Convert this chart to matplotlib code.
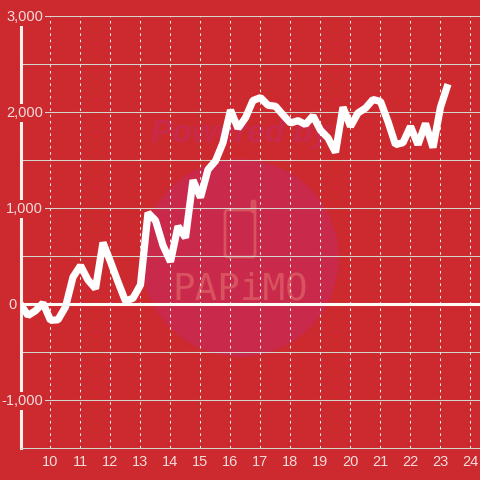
import matplotlib.pyplot as plt
from matplotlib.patches import Circle, FancyBboxPatch

# 15 minute samples starting at 9:00
start_hour = 9
step = 0.25
values = [0, -120, -70, 10, -170, -165, -30, 280, 400, 250,
          160, 640, 440, 230, 30, 60, 200, 950, 870, 610,
          440, 810, 690, 1290, 1110, 1400, 1490, 1680, 2020, 1830,
          1940, 2120, 2150, 2070, 2060, 1970, 1885, 1910, 1870, 1960,
          1810, 1730, 1580, 2050, 1850, 1990, 2040, 2130, 2110, 1900,
          1660, 1680, 1850, 1660, 1880, 1630, 2050, 2290]
hours = [start_hour + i * step for i in range(len(values))]

x_ticks = list(range(10, 25))
y_ticks = [3000, 2000, 1000, 0, -1000]
y_labels = ['3,000', '2,000', '1,000', '0', '-1,000']
y_grid = [-1000, -500, 500, 1000, 1500, 2000, 2500, 3000]

bg = '#cc2a2e'
text_color = '#f6dcdc'
grid_color = '#d5d5cf'
mark_color = '#c9294a'
logo_color = '#d8525f'

plt.rcParams['font.family'] = ['Liberation Sans', 'DejaVu Sans']

fig = plt.figure(figsize=(4.8, 4.8), dpi=100, facecolor=bg)
ax = fig.add_axes([20.5 / 480, 32 / 480, 459.5 / 480, 432 / 480], facecolor=bg)
ax.set_xlim(9, 24.317)
ax.set_ylim(-1500, 3000)


# pixel position measured from the top left of the picture
def fig_xy(px, py):
    return px / 480, 1 - py / 480


# faint logo behind the chart
ax.add_patch(Circle(fig_xy(240, 258), 98 / 480, transform=fig.transFigure, color=mark_color, zorder=0))
ax.text(*fig_xy(241, 134), 'Powered by', transform=fig.transFigure, fontsize=23, fontweight='bold',
        style='italic', color=mark_color, ha='center', va='center', zorder=0.5)
ax.text(*fig_xy(240, 290), 'PAPiMO', transform=fig.transFigure, fontsize=27, family='DejaVu Sans Mono',
        color=logo_color, ha='center', va='center', zorder=0.5)
ax.add_patch(FancyBboxPatch(fig_xy(225, 257), 30 / 480, 47 / 480, transform=fig.transFigure,
                            boxstyle='round,pad=0,rounding_size=0.006', fc='none', ec=logo_color, lw=2, zorder=0.5))
ax.add_patch(FancyBboxPatch(fig_xy(252, 212), 3 / 480, 11 / 480, transform=fig.transFigure,
                            boxstyle='round,pad=0,rounding_size=0.003', fc='none', ec=logo_color, lw=2, zorder=0.5))

for v in y_grid:
    ax.axhline(v, color=grid_color, lw=0.75, zorder=1)
for h in x_ticks:
    ax.axvline(h, color='#eeeeea', lw=0.75, ls=(0, (2.5, 3.5)), zorder=1)
ax.axhline(0, color='#fffdf8', lw=2.2, zorder=2)

ax.plot(hours, values, color='white', lw=5.2, solid_joinstyle='bevel', solid_capstyle='butt', zorder=3)

for s in ['top', 'right']:
    ax.spines[s].set_visible(False)
ax.spines['left'].set_color('#f5f2ee')
ax.spines['left'].set_linewidth(2.2)
ax.spines['left'].set_bounds(-1500, 2920)
ax.spines['bottom'].set_color(grid_color)
ax.spines['bottom'].set_linewidth(0.75)

ax.set_xticks(x_ticks)
ax.set_yticks([])
ax.tick_params(axis='x', length=0, pad=5, labelsize=10.5, colors=text_color)

for v, lab in zip(y_ticks, y_labels):
    off = -3.5 if lab == '0' else 22.5
    ax.annotate(lab, (0, v), xycoords=('axes fraction', 'data'), xytext=(off, -1), textcoords='offset pixels',
                ha='right', va='center', fontsize=10.5, color=text_color, zorder=5, annotation_clip=False,
                bbox=dict(fc=bg, ec='none', pad=1.5))

fig.savefig('out.png', dpi=100, facecolor=bg)
